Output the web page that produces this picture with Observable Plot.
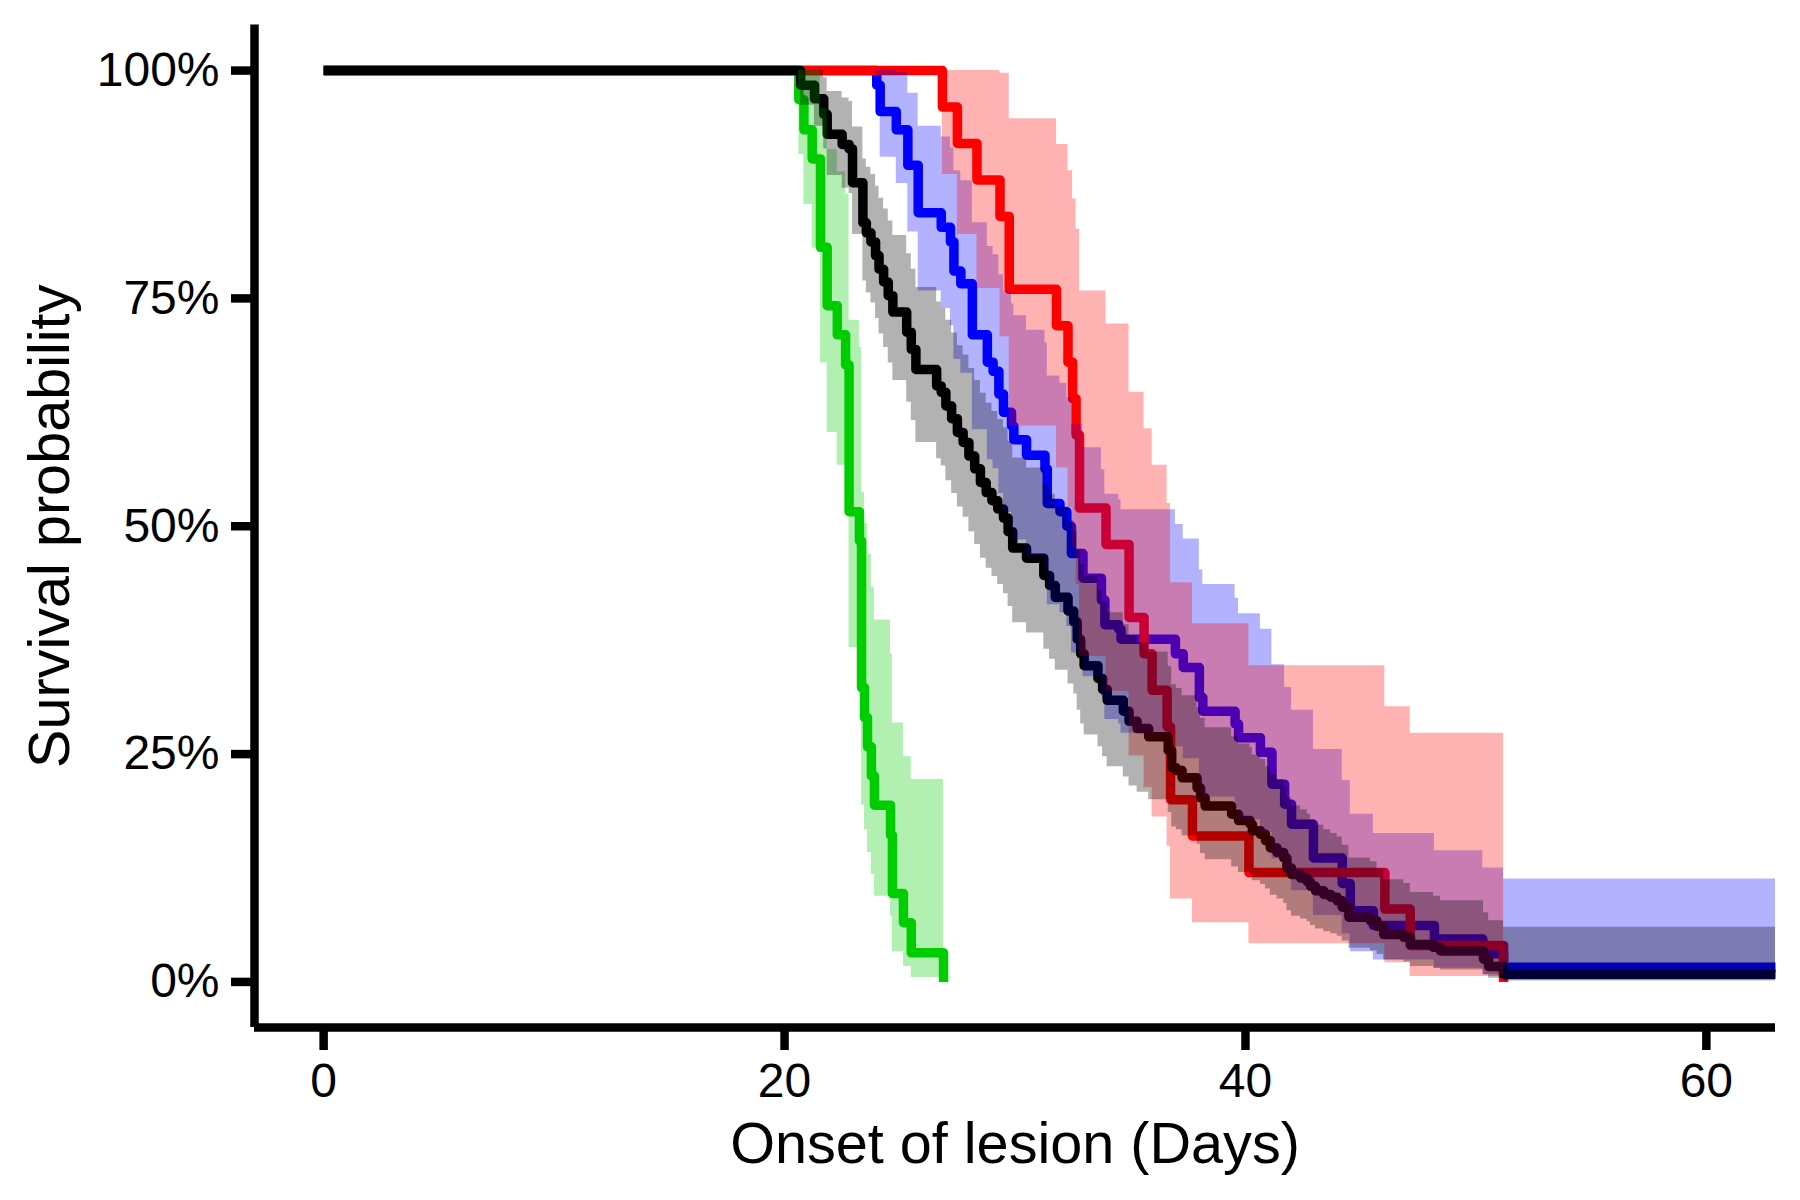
<!DOCTYPE html>
<html>
<head>
<meta charset="utf-8">
<script src="https://cdn.jsdelivr.net/npm/d3@7"></script>
<script src="https://cdn.jsdelivr.net/npm/@observablehq/plot@0.6"></script>
<style>
html, body { margin: 0; padding: 0; background: #ffffff; }
</style>
</head>
<body>
<div id="chart"></div>
<script>
// ---- axes ----
const xTicks = [0, 20, 40, 60];
const yTicks = [0, 0.25, 0.5, 0.75, 1];
const xDomain = [-3, 63];
const yDomain = [-0.05, 1.05];
const xTitle = "Onset of lesion (Days)";
const yTitle = "Survival probability";

// ---- groups (drawing order) ----
const groupNames = ["green", "blue", "red", "black"];
const groupColors = ["#00CD00", "#0000FF", "#FF0000", "#000000"];

// ---- green group ----
const greenTime  = [0, 20.62, 20.84, 21.2, 21.56, 21.85, 22.29, 22.65, 22.8, 23.25, 23.34, 23.47, 23.6, 23.77, 23.9, 24.6, 24.68, 25.16, 25.5, 26.9];
const greenSurv  = [1, 0.968, 0.935, 0.903, 0.806, 0.742, 0.710, 0.677, 0.516, 0.484, 0.323, 0.290, 0.258, 0.226, 0.194, 0.161, 0.097, 0.065, 0.032, 0];
const greenLower = [1, 0.908, 0.853, 0.805, 0.679, 0.603, 0.567, 0.531, 0.367, 0.336, 0.194, 0.167, 0.142, 0.118, 0.094, 0.072, 0.033, 0.017, 0.005, 0.005];
const greenUpper = [1, 1, 1, 1, 0.958, 0.913, 0.889, 0.864, 0.726, 0.696, 0.537, 0.503, 0.469, 0.433, 0.397, 0.360, 0.284, 0.247, 0.222, 0.222];

// ---- blue group ----
const blueTime  = [0, 24.0, 24.15, 24.85, 25.35, 25.8, 26.8, 27.2, 27.35, 27.65, 28.15, 28.8, 29.05, 29.3, 29.5, 29.85, 29.95, 30.5, 31.3, 31.4, 31.95, 32.25, 32.45, 32.95, 33.75, 33.9, 34.5, 34.6, 36.96, 37.3, 38.0, 38.15, 39.55, 39.7, 40.65, 41.15, 41.7, 42.0, 42.95, 44.2, 44.55, 45.55, 48.2, 50.3, 51.2, 63];
const blueSurv  = [1, 0.984, 0.955, 0.935, 0.896, 0.844, 0.828, 0.812, 0.780, 0.766, 0.710, 0.680, 0.670, 0.645, 0.625, 0.610, 0.595, 0.578, 0.563, 0.525, 0.516, 0.500, 0.470, 0.443, 0.419, 0.392, 0.387, 0.376, 0.360, 0.345, 0.312, 0.297, 0.283, 0.268, 0.252, 0.217, 0.195, 0.173, 0.136, 0.108, 0.078, 0.062, 0.047, 0.031, 0.016, 0.016];
const blueLower = [1, 0.953, 0.905, 0.876, 0.823, 0.758, 0.739, 0.720, 0.683, 0.668, 0.606, 0.573, 0.563, 0.536, 0.515, 0.500, 0.485, 0.467, 0.452, 0.414, 0.405, 0.390, 0.361, 0.335, 0.313, 0.288, 0.283, 0.273, 0.258, 0.245, 0.216, 0.203, 0.190, 0.178, 0.164, 0.135, 0.118, 0.100, 0.073, 0.053, 0.033, 0.024, 0.015, 0.008, 0.002, 0.002];
const blueUpper = [1, 1, 1, 0.998, 0.975, 0.939, 0.927, 0.915, 0.890, 0.879, 0.833, 0.807, 0.798, 0.776, 0.758, 0.744, 0.731, 0.715, 0.701, 0.665, 0.657, 0.641, 0.612, 0.586, 0.562, 0.535, 0.529, 0.518, 0.502, 0.486, 0.452, 0.436, 0.421, 0.404, 0.387, 0.348, 0.323, 0.298, 0.255, 0.221, 0.184, 0.163, 0.144, 0.125, 0.113, 0.113];

// ---- red group ----
const redTime  = [0, 26.85, 27.5, 28.35, 29.35, 29.75, 31.8, 32.3, 32.5, 32.65, 32.8, 33.95, 34.95, 35.6, 35.95, 36.6, 36.75, 37.7, 40.15, 46.05, 47.15, 51.2];
const redSurv  = [1, 0.96, 0.92, 0.88, 0.84, 0.76, 0.72, 0.68, 0.64, 0.60, 0.52, 0.48, 0.40, 0.36, 0.32, 0.28, 0.20, 0.16, 0.12, 0.08, 0.04, 0];
const redLower = [1, 0.886, 0.820, 0.761, 0.708, 0.610, 0.564, 0.520, 0.477, 0.436, 0.357, 0.319, 0.248, 0.213, 0.181, 0.149, 0.091, 0.065, 0.042, 0.021, 0.006, 0.006];
const redUpper = [1, 1, 1, 1, 0.997, 0.947, 0.919, 0.890, 0.859, 0.826, 0.758, 0.722, 0.647, 0.607, 0.567, 0.525, 0.438, 0.393, 0.347, 0.302, 0.273, 0.273];

// ---- black group ----
const blackTime  = [0, 20.7, 21.3, 21.7, 21.85, 22.5, 22.8, 22.95, 23.4, 23.55, 23.75, 23.95, 24.1, 24.3, 24.5, 24.7, 25.3, 25.5, 25.7, 26.6, 26.8, 27.0, 27.25, 27.5, 27.75, 28.0, 28.25, 28.5, 28.75, 29.0, 29.25, 29.5, 29.7, 29.9, 30.5, 31.25, 31.5, 31.75, 32.3, 32.55, 32.7, 32.85, 33.0, 33.6, 33.8, 34.0, 34.7, 34.95, 35.3, 35.8, 36.65, 36.8, 37.0, 37.25, 37.9, 38.05, 38.25, 39.4, 39.7, 40.2, 40.3, 40.65, 40.87, 41.08, 41.37, 41.66, 41.8, 42.0, 42.39, 42.68, 42.82, 43.04, 43.4, 43.7, 43.98, 44.2, 44.49, 45.42, 45.71, 46.0, 46.87, 47.16, 48.16, 48.46, 50.33, 50.55, 51.2, 63];
const blackSurv  = [1, 0.984, 0.969, 0.952, 0.930, 0.919, 0.914, 0.877, 0.833, 0.822, 0.812, 0.797, 0.782, 0.768, 0.753, 0.735, 0.713, 0.694, 0.672, 0.654, 0.647, 0.632, 0.618, 0.603, 0.592, 0.577, 0.563, 0.548, 0.537, 0.528, 0.519, 0.509, 0.494, 0.476, 0.465, 0.446, 0.435, 0.422, 0.407, 0.395, 0.376, 0.360, 0.347, 0.333, 0.321, 0.309, 0.297, 0.286, 0.278, 0.269, 0.254, 0.235, 0.232, 0.224, 0.213, 0.202, 0.193, 0.184, 0.177, 0.173, 0.166, 0.162, 0.155, 0.147, 0.142, 0.136, 0.125, 0.118, 0.114, 0.110, 0.105, 0.100, 0.096, 0.093, 0.089, 0.082, 0.071, 0.067, 0.061, 0.052, 0.049, 0.041, 0.038, 0.034, 0.025, 0.017, 0.0085, 0.0085];
const blackLower = [1, 0.962, 0.939, 0.914, 0.885, 0.871, 0.865, 0.820, 0.769, 0.756, 0.745, 0.728, 0.711, 0.696, 0.679, 0.660, 0.636, 0.616, 0.592, 0.574, 0.566, 0.550, 0.536, 0.521, 0.510, 0.494, 0.480, 0.465, 0.454, 0.445, 0.436, 0.426, 0.412, 0.394, 0.383, 0.365, 0.354, 0.342, 0.327, 0.316, 0.298, 0.283, 0.271, 0.258, 0.247, 0.236, 0.225, 0.215, 0.208, 0.200, 0.186, 0.170, 0.167, 0.160, 0.151, 0.141, 0.134, 0.126, 0.120, 0.117, 0.111, 0.107, 0.102, 0.095, 0.091, 0.086, 0.078, 0.072, 0.069, 0.066, 0.062, 0.058, 0.055, 0.053, 0.050, 0.045, 0.037, 0.034, 0.030, 0.024, 0.022, 0.017, 0.015, 0.013, 0.008, 0.004, 0.001, 0.001];
const blackUpper = [1, 1, 1, 0.992, 0.977, 0.970, 0.966, 0.938, 0.903, 0.894, 0.886, 0.873, 0.860, 0.848, 0.835, 0.819, 0.799, 0.782, 0.762, 0.746, 0.739, 0.726, 0.712, 0.698, 0.688, 0.673, 0.660, 0.646, 0.635, 0.626, 0.617, 0.608, 0.593, 0.575, 0.564, 0.546, 0.535, 0.521, 0.506, 0.494, 0.474, 0.458, 0.445, 0.430, 0.417, 0.405, 0.392, 0.380, 0.372, 0.362, 0.346, 0.326, 0.322, 0.314, 0.301, 0.289, 0.279, 0.269, 0.261, 0.257, 0.249, 0.244, 0.236, 0.227, 0.222, 0.214, 0.202, 0.193, 0.189, 0.184, 0.178, 0.172, 0.167, 0.163, 0.159, 0.150, 0.136, 0.132, 0.124, 0.112, 0.108, 0.098, 0.094, 0.089, 0.076, 0.067, 0.060, 0.060];

function rows(time, surv, lower, upper) {
  return time.map((t, i) => ({time: t, surv: surv[i], lower: lower[i], upper: upper[i]}));
}
const series = {
  green: rows(greenTime, greenSurv, greenLower, greenUpper),
  blue: rows(blueTime, blueSurv, blueLower, blueUpper),
  red: rows(redTime, redSurv, redLower, redUpper),
  black: rows(blackTime, blackSurv, blackLower, blackUpper)
};

const lineMarks = groupNames.map((g, i) => Plot.line(series[g], {
  x: "time", y: "surv", curve: "step-after",
  stroke: groupColors[i], strokeWidth: 9.5, strokeLinejoin: "round", strokeLinecap: "butt"
}));
const bandMarks = groupNames.map((g, i) => Plot.areaY(series[g], {
  x: "time", y1: "lower", y2: "upper", curve: "step-after",
  fill: groupColors[i], fillOpacity: 0.3
}));

const font = "'Liberation Sans', Arial, Helvetica, sans-serif";

const chart = Plot.plot({
  width: 1800,
  height: 1200,
  marginLeft: 254,
  marginRight: 25,
  marginTop: 24.5,
  marginBottom: 173,
  style: {fontFamily: font, background: "#ffffff", color: "#000000", overflow: "visible"},
  x: {domain: xDomain},
  y: {domain: yDomain},
  marks: [
    ...lineMarks,
    ...bandMarks,
    Plot.axisX({ticks: xTicks, tickSize: 23, tickPadding: 12, strokeWidth: 8.5, fontSize: 48, label: null, fill: "#000000"}),
    Plot.axisY({ticks: yTicks, tickFormat: d3.format(".0%"), tickSize: 23, tickPadding: 12, strokeWidth: 8.5, fontSize: 48, label: null, fill: "#000000"}),
    Plot.ruleX([xDomain[0]], {y1: yDomain[0], y2: yDomain[1], stroke: "#000000", strokeWidth: 8.5}),
    Plot.ruleY([yDomain[0]], {x1: xDomain[0], x2: xDomain[1], stroke: "#000000", strokeWidth: 8.5}),
    Plot.text([xTitle], {text: d => d, frameAnchor: "bottom", lineAnchor: "bottom", textAnchor: "middle", dy: 135, fontSize: 57.6, fill: "#000000"}),
    Plot.text([yTitle], {text: d => d, frameAnchor: "left", rotate: -90, lineAnchor: "bottom", textAnchor: "middle", dx: -186, fontSize: 57.6, fill: "#000000"})
  ]
});
document.getElementById("chart").appendChild(chart);
</script>
</body>
</html>
